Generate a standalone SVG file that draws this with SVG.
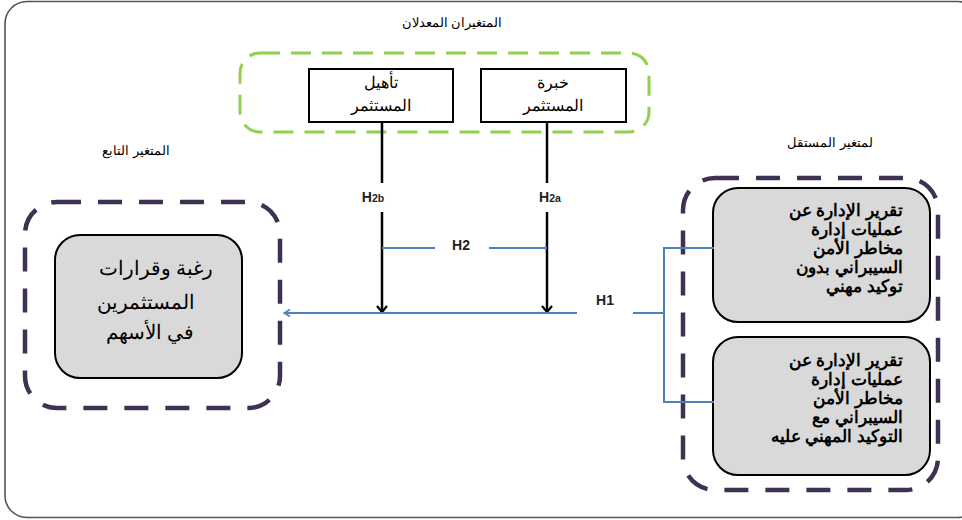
<svg xmlns="http://www.w3.org/2000/svg" width="962" height="520" viewBox="0 0 962 520">
<defs>
<marker id="blk" markerWidth="12" markerHeight="12" refX="10" refY="6" orient="auto" markerUnits="userSpaceOnUse" viewBox="0 0 12 12">
<path d="M4,1 L10,6 L4,11" fill="none" stroke="#000" stroke-width="2.2"/>
</marker>
<marker id="blu" markerWidth="10" markerHeight="10" refX="9" refY="5" orient="auto" markerUnits="userSpaceOnUse" viewBox="0 0 10 10">
<path d="M3,1.5 L9,5 L3,8.5" fill="none" stroke="#4F81BD" stroke-width="1.6"/>
</marker>
</defs>
<style>
.frame{fill:#fff;stroke:#555;stroke-width:1.6}
.green{fill:none;stroke:#92D050;stroke-width:3;stroke-dasharray:20 11}
.purple{fill:none;stroke:#3F3151;stroke-width:4.5;stroke-dasharray:24 17}
.box{fill:#fff;stroke:#000;stroke-width:2}
.gray{fill:#D9D9D9;stroke:#000;stroke-width:2}
.lbl{font-family:"Liberation Sans","Noto Sans",sans-serif;font-size:12.5px;fill:#000;text-anchor:middle}
.bt{font-family:"Liberation Sans","Noto Sans",sans-serif;font-size:16px;fill:#000;text-anchor:middle}
.big{font-family:"Liberation Sans","Noto Sans",sans-serif;font-size:20px;fill:#000;text-anchor:middle}
.rt{font-family:"Liberation Sans","Noto Sans",sans-serif;font-size:17px;font-weight:bold;fill:#000;text-anchor:start}
.h{font-family:"Liberation Sans","Noto Sans",sans-serif;font-size:14px;font-weight:bold;fill:#222;text-anchor:middle}
.blk{fill:none;stroke:#000;stroke-width:2.5}
.blue{fill:none;stroke:#4F81BD;stroke-width:2}
</style>
<rect x="5" y="1.5" width="975" height="516" rx="22" class="frame"/>
<text class="lbl" x="452" y="27" direction="rtl">المتغيران المعدلان</text>
<text class="lbl" x="136" y="155" direction="rtl">المتغير التابع</text>
<text class="lbl" x="830" y="147" direction="rtl">لمتغير المستقل</text>
<g id="moderators">
<rect x="240" y="53" width="409" height="79" rx="20" class="green"/>
</g>
<g id="qualification">
<rect x="309" y="69" width="144" height="53" class="box"/>
<text class="bt" x="381" y="88" direction="rtl">تأهيل</text>
<text class="bt" x="381" y="111" direction="rtl">المستثمر</text>
</g>
<g id="experience">
<rect x="481" y="69" width="145" height="53" class="box"/>
<text class="bt" x="553" y="88" direction="rtl">خبرة</text>
<text class="bt" x="553" y="111" direction="rtl">المستثمر</text>
</g>
<g id="dependent">
<rect x="25" y="202" width="255" height="206" rx="32" class="purple"/>
<rect x="55" y="235" width="187" height="143" rx="25" class="gray"/>
<text class="big" x="156" y="275" direction="rtl">رغبة وقرارات</text>
<text class="big" x="146" y="309" direction="rtl">المستثمرين</text>
<text class="big" x="150" y="339" direction="rtl">في الأسهم</text>
</g>
<g id="independent">
<rect x="683" y="178" width="255" height="312" rx="32" class="purple"/>
</g>
<g id="report-no-assurance">
<rect x="713" y="188" width="217" height="134" rx="25" class="gray"/>
<text class="rt" x="903" y="216" direction="rtl">تقرير الإدارة عن</text>
<text class="rt" x="903" y="235" direction="rtl">عمليات إدارة</text>
<text class="rt" x="903" y="254" direction="rtl">مخاطر الأمن</text>
<text class="rt" x="903" y="273" direction="rtl">السيبراني بدون</text>
<text class="rt" x="903" y="292" direction="rtl">توكيد مهني</text>
</g>
<g id="report-with-assurance">
<rect x="713" y="337" width="217" height="138" rx="25" class="gray"/>
<text class="rt" x="903" y="366" direction="rtl">تقرير الإدارة عن</text>
<text class="rt" x="903" y="385" direction="rtl">عمليات إدارة</text>
<text class="rt" x="903" y="404" direction="rtl">مخاطر الأمن</text>
<text class="rt" x="903" y="423" direction="rtl">السيبراني مع</text>
<text class="rt" x="903" y="442" direction="rtl">التوكيد المهني عليه</text>
</g>
<g id="connectors">
<line x1="382" y1="122" x2="382" y2="183" class="blk"/>
<line x1="382" y1="212" x2="382" y2="312" class="blk" marker-end="url(#blk)"/>
<line x1="547" y1="122" x2="547" y2="183" class="blk"/>
<line x1="547" y1="212" x2="547" y2="312" class="blk" marker-end="url(#blk)"/>
<line x1="382" y1="248" x2="435" y2="248" class="blue"/>
<line x1="489" y1="248" x2="547" y2="248" class="blue"/>
<line x1="577" y1="313" x2="284" y2="313" class="blue" marker-end="url(#blu)"/>
<polyline points="633,313 664,313" class="blue"/>
<polyline points="714,248 664,248 664,402 714,402" class="blue"/>
<text class="h" x="373" y="202">H<tspan font-size="10.5">2b</tspan></text>
<text class="h" x="550" y="202">H<tspan font-size="10.5">2a</tspan></text>
<text class="h" x="461" y="250">H2</text>
<text class="h" x="605" y="305">H1</text>
</g>
</svg>
